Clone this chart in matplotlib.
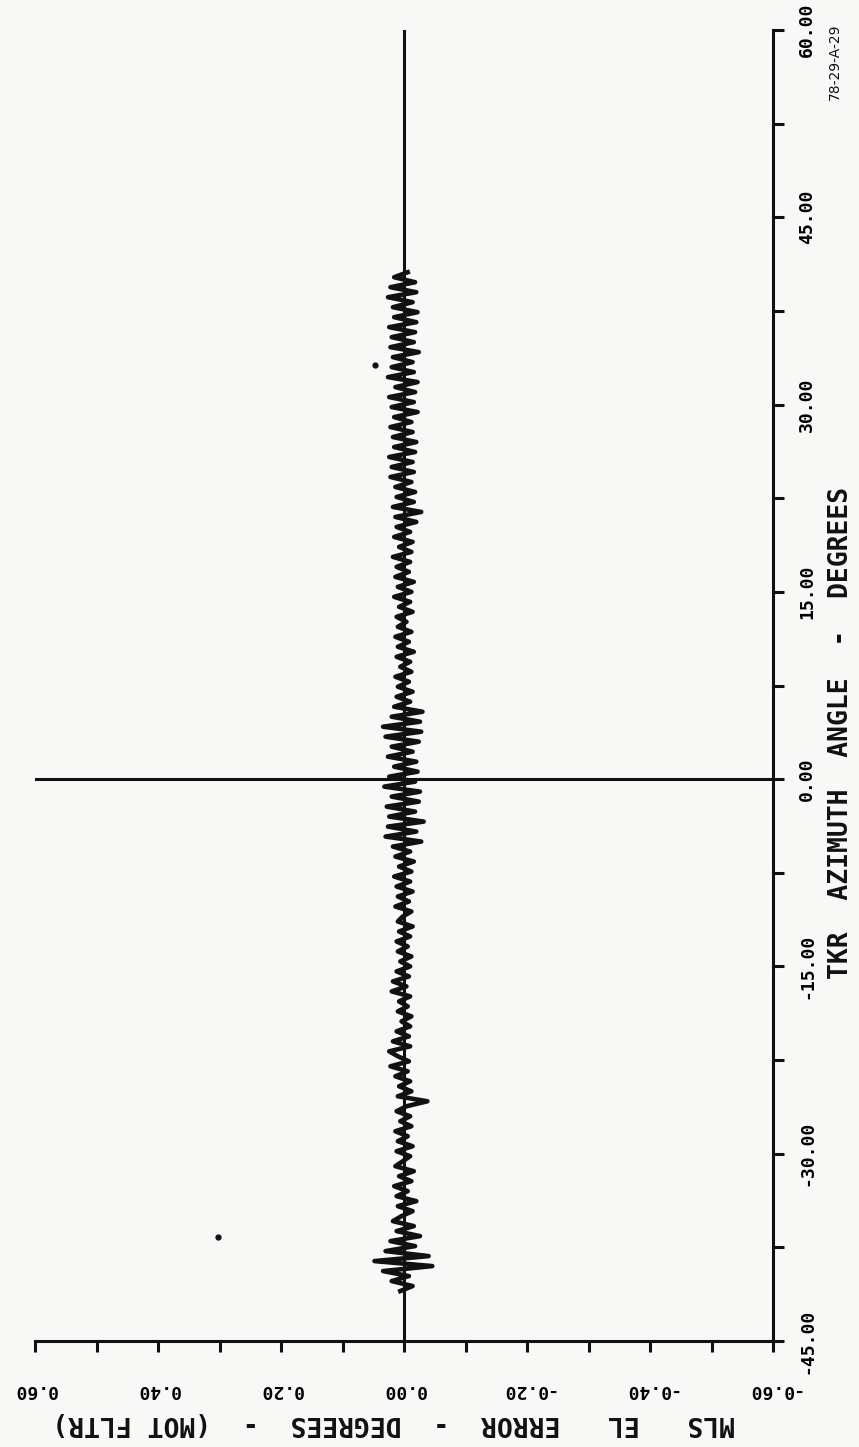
import matplotlib.pyplot as plt
import numpy as np

# azimuth grid of the trace (deg)
az_start = -41.0
az_step = 0.4

# MLS EL error (deg), from az -41 upward
el_error = [
    0.006, -0.014, 0.020, -0.008, 0.034, -0.046, 0.048, -0.040, 0.030, -0.018,
    0.022, -0.026, 0.012, -0.016, 0.018, 0.004, -0.014, 0.010, -0.020, 0.012,
    -0.006, 0.016, -0.012, 0.008, -0.016, 0.014, 0.002, -0.010, 0.012, -0.014,
    0.010, -0.006, 0.014, -0.012, 0.006, -0.010, 0.012, -0.004, -0.038, 0.010,
    -0.012, 0.008, -0.010, 0.014, -0.006, 0.022, -0.008, 0.010, 0.024, -0.010,
    0.018, -0.008, 0.012, -0.010, 0.004, -0.012, 0.010, -0.006, 0.008, -0.010,
    0.020, -0.004, 0.018, -0.008, 0.012, -0.010, 0.006, -0.012, 0.010, -0.006,
    0.012, -0.010, 0.008, -0.014, 0.010, 0.002, -0.012, 0.014, -0.008, 0.010,
    -0.014, 0.012, -0.010, 0.016, -0.012, 0.008, -0.016, 0.014, -0.010, 0.018,
    -0.028, 0.030, -0.020, 0.026, -0.032, 0.024, -0.018, 0.028, -0.024, 0.020,
    -0.026, 0.032, -0.018, 0.024, -0.022, 0.016, -0.020, 0.026, -0.014, 0.020,
    -0.024, 0.030, -0.028, 0.034, -0.026, 0.020, -0.030, 0.016, -0.010, 0.012,
    -0.014, 0.010, -0.008, 0.014, -0.012, 0.006, -0.010, 0.012, -0.016, 0.010,
    -0.008, 0.014, -0.012, 0.010, -0.004, 0.012, -0.014, 0.008, -0.010, 0.016,
    -0.012, 0.010, -0.016, 0.014, -0.008, 0.012, -0.010, 0.018, -0.012, 0.008,
    -0.014, 0.016, -0.010, 0.012, -0.020, 0.014, -0.028, 0.018, -0.016, 0.012,
    -0.018, 0.014, -0.012, 0.022, -0.016, 0.020, -0.014, 0.024, -0.018, 0.016,
    -0.020, 0.018, -0.014, 0.022, -0.012, 0.016, -0.022, 0.020, -0.016, 0.024,
    -0.018, 0.014, -0.022, 0.026, -0.016, 0.020, -0.014, 0.018, -0.024, 0.022,
    -0.016, 0.020, -0.018, 0.024, -0.020, 0.016, -0.022, 0.018, -0.014, 0.026,
    -0.020, 0.022, -0.018, 0.016, -0.006,
]

# stray plotted points
dot_err = [0.047, 0.302]
dot_az = [33.2, -36.7]

az_ticks = [-45, -30, -15, 0, 15, 30, 45, 60]
az_labels = ["-45.00", "-30.00", "-15.00", "0.00", "15.00", "30.00", "45.00", "60.00"]
err_ticks = [0.6, 0.4, 0.2, 0.0, -0.2, -0.4, -0.6]
err_labels = ["0.60", "0.40", "0.20", "0.00", "-0.20", "-0.40", "-0.60"]

az = az_start + az_step * np.arange(len(el_error))

ink = "#111111"
paper = "#f8f8f6"
font = {"family": "DejaVu Sans Mono", "weight": "bold"}

fig = plt.figure(figsize=(8.59, 14.47), dpi=100, facecolor=paper)
ax = fig.add_axes([35 / 859, 1 - 1341 / 1447, (773 - 35) / 859, (1341 - 30) / 1447])
ax.set_facecolor(paper)

ax.set_xlim(0.6, -0.6)
ax.set_ylim(-45, 60)

ax.axhline(0, color=ink, lw=2.2, zorder=2)
ax.axvline(0, color=ink, lw=2.2, zorder=2)
ax.plot(el_error, az, color=ink, lw=3.3, solid_joinstyle="round", zorder=3)
ax.plot(dot_err, dot_az, "o", color=ink, ms=3.5, zorder=3)

for s in ["top", "left"]:
    ax.spines[s].set_visible(False)
for s in ["bottom", "right"]:
    ax.spines[s].set_linewidth(2.2)
    ax.spines[s].set_color(ink)

ax.yaxis.tick_right()
ax.set_yticks(az_ticks)
ax.set_yticks(np.arange(-37.5, 60, 15), minor=True)
ax.set_yticklabels(az_labels, rotation=90, va="center", ha="left", fontsize=13, **font)
ax.set_xticks(err_ticks)
ax.set_xticklabels(err_labels, rotation=180, va="top", ha="center", fontsize=13, **font)
ax.set_xticks([0.5, 0.3, 0.1, -0.1, -0.3, -0.5], minor=True)
ax.tick_params(axis="both", which="both", direction="out", length=8, width=2.2, color=ink)
ax.tick_params(axis="x", which="major", pad=21)
ax.tick_params(axis="y", which="major", pad=10)

fig.text(394 / 859, 1 - 1423 / 1447, "MLS   EL   ERROR  -  DEGREES  -  (MOT FLTR)",
         rotation=180, ha="center", va="center", fontsize=19, color=ink, **font)
fig.text(841 / 859, 1 - 733 / 1447, "TKR  AZIMUTH  ANGLE  -  DEGREES",
         rotation=90, ha="center", va="center", fontsize=19, color=ink, **font)
fig.text(835 / 859, 1 - 62 / 1447, "78-29-A-29", rotation=90, ha="center", va="center",
         fontsize=10, color=ink, family="DejaVu Sans")

fig.savefig("out.png", dpi=100, facecolor=paper)
